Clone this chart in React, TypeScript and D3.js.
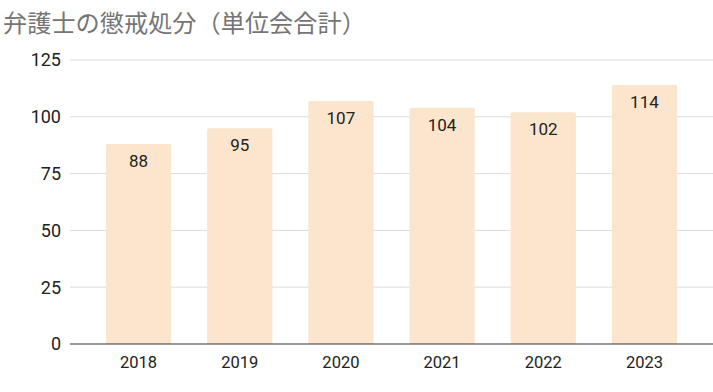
import React, { useEffect, useRef } from 'react';
import * as d3 from 'd3';

const years = ['2018', '2019', '2020', '2021', '2022', '2023'];
const counts = [88, 95, 107, 104, 102, 114];
const yTicks = [0, 25, 50, 75, 100, 125];
const title = '弁護士の懲戒処分（単位会合計）';

const W = 713, H = 392;
const margin = { top: 60, right: 0, bottom: 48, left: 70 };

export default function App() {
  const ref = useRef<SVGSVGElement>(null);

  useEffect(() => {
    const svg = d3.select(ref.current);
    svg.selectAll('*').remove();

    const x = d3.scaleBand().domain(years).range([margin.left, W - margin.right]).padding(0.355);
    const y = d3.scaleLinear().domain([0, 125]).range([H - margin.bottom, margin.top]);

    svg.append('rect').attr('width', W).attr('height', H).attr('fill', '#fff');

    svg.append('text')
      .attr('x', 3).attr('y', 32)
      .attr('font-family', '"Noto Sans CJK JP", sans-serif')
      .attr('font-size', 24.2)
      .attr('fill', '#757575')
      .text(title);

    // gridlines
    svg.append('g').selectAll('line')
      .data(yTicks.filter(t => t > 0))
      .enter().append('line')
      .attr('x1', margin.left).attr('x2', W)
      .attr('y1', d => y(d)).attr('y2', d => y(d))
      .attr('stroke', '#dcdcdc').attr('stroke-width', 1);

    // y labels
    svg.append('g').selectAll('text')
      .data(yTicks)
      .enter().append('text')
      .attr('x', 61).attr('y', d => y(d))
      .attr('dy', '0.36em')
      .attr('text-anchor', 'end')
      .attr('font-family', 'Roboto, sans-serif')
      .attr('font-size', 18)
      .attr('fill', '#222')
      .text(d => d);

    // bars
    const data = years.map((yr, i) => ({ yr, v: counts[i] }));
    svg.append('g').selectAll('rect')
      .data(data)
      .enter().append('rect')
      .attr('x', d => x(d.yr)!)
      .attr('y', d => y(d.v))
      .attr('width', x.bandwidth())
      .attr('height', d => y(0) - y(d.v))
      .attr('rx', 1.5)
      .attr('fill', '#fce5cd');

    svg.append('g').selectAll('text')
      .data(data)
      .enter().append('text')
      .attr('x', d => x(d.yr)! + x.bandwidth() / 2)
      .attr('y', d => y(d.v) + 23)
      .attr('text-anchor', 'middle')
      .attr('font-family', 'Roboto, sans-serif')
      .attr('font-size', 17)
      .attr('fill', '#222')
      .text(d => d.v);

    // baseline
    svg.append('line')
      .attr('x1', margin.left).attr('x2', W)
      .attr('y1', y(0)).attr('y2', y(0))
      .attr('stroke', '#333').attr('stroke-width', 1.2);

    // x labels
    svg.append('g').selectAll('text')
      .data(years)
      .enter().append('text')
      .attr('x', d => x(d)! + x.bandwidth() / 2)
      .attr('y', y(0) + 24)
      .attr('text-anchor', 'middle')
      .attr('font-family', 'Roboto, sans-serif')
      .attr('font-size', 16.5)
      .attr('fill', '#222')
      .text(d => d);
  }, []);

  return (
    <svg ref={ref} width={W} height={H}
      style={{ position: 'absolute', left: 0, top: 0, display: 'block' }} />
  );
}
